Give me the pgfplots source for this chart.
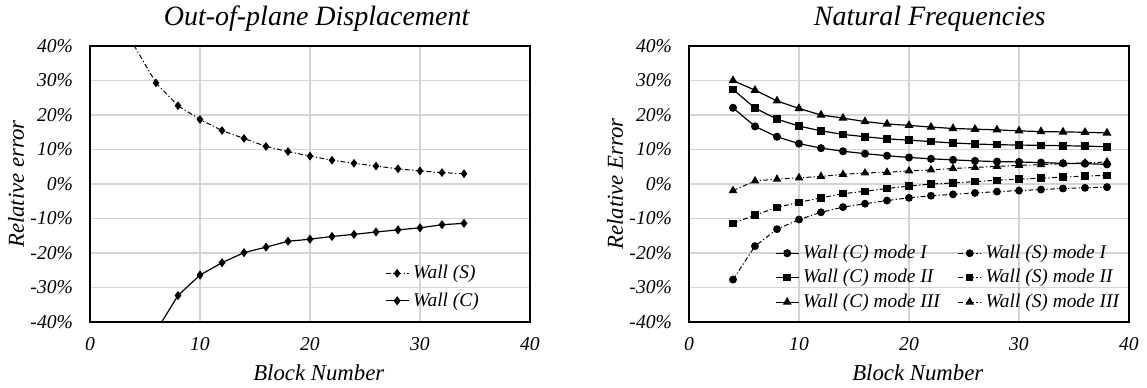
\documentclass[border=0pt]{standalone}
\usepackage{fontspec}
\setmainfont{Liberation Serif}
\usepackage{pgfplots}
\pgfplotsset{compat=1.18}
\pgfplotsset{
 myaxis/.style={
  scale only axis, width=220pt, height=138pt,
  xmin=0,xmax=40,ymin=-40,ymax=40,
  xtick={0,10,20,30,40}, xticklabels={0,10,20,30,40},
  ytick={-40,-30,-20,-10,0,10,20,30,40},
  yticklabels={-40\%,-30\%,-20\%,-10\%,0\%,10\%,20\%,30\%,40\%},
  grid=major, major grid style={line width=0.6pt, color=black!17},
  axis line style={line width=0.6pt},
  major tick length=0pt,
  tick label style={font=\fontsize{9.8}{11}\selectfont\itshape},
  xticklabel style={yshift=-4pt},
  yticklabel style={xshift=-5pt},
  every axis x label/.style={at={(axis description cs:0.52,-0.185)},anchor=center,font=\fontsize{11.4}{13}\selectfont\itshape},
  every axis y label/.style={at={(axis description cs:-0.168,0.5)},anchor=center,rotate=90,font=\fontsize{11.4}{13}\selectfont\itshape},
  legend style={draw=none, fill=none, font=\fontsize{9.7}{11}\selectfont\itshape, inner sep=0pt},
  legend cell align=left,
  legend image code/.code={\draw[mark repeat=2,mark phase=2] plot coordinates {(0cm,0cm) (0.2cm,0cm) (0.4cm,0cm)};},
 },
 sdash/.style={black, line width=0.5pt, dash pattern=on 2.4pt off 1.2pt on 0.6pt off 1.2pt},
 csolid/.style={black, line width=0.6pt, solid},
}
\begin{document}
\begin{tikzpicture}
\useasboundingbox (0,0) rectangle (573.5pt,193.5pt);
\begin{axis}[myaxis, at={(45pt,32.5pt)}, anchor=south west,
  title={Out-of-plane Displacement},
  every axis title/.style={at={(axis description cs:0.515,1.10)},anchor=center,font=\fontsize{14}{16}\selectfont\itshape},
  xlabel={Block Number}, ylabel={Relative error},
  legend style={at={(0.67,0.222)}, anchor=north west, row sep=1.5pt},
  ]
\addplot[sdash, mark=diamond*, mark size=1.8pt, mark options={solid}] coordinates {
(6,29.3)(8,22.7)(10,18.7)(12,15.5)(14,13.2)(16,10.9)(18,9.4)(20,8.1)(22,6.9)(24,6.0)(26,5.2)(28,4.4)(30,3.8)(32,3.3)(34,3.0)};
\addlegendentry{Wall (S)}
\addplot[csolid, mark=diamond*, mark size=1.8pt] coordinates {
(8,-32.3)(10,-26.4)(12,-22.8)(14,-19.9)(16,-18.3)(18,-16.6)(20,-16.0)(22,-15.2)(24,-14.6)(26,-13.9)(28,-13.3)(30,-12.7)(32,-11.8)(34,-11.4)};
\addlegendentry{Wall (C)}
\addplot[sdash, forget plot] coordinates {(4,40.2)(6,29.3)};
\addplot[csolid, forget plot] coordinates {(6,-42.7)(8,-32.3)};
\end{axis}
\begin{axis}[myaxis, at={(344.5pt,32.5pt)}, anchor=south west,
  title={Natural Frequencies},
  every axis title/.style={at={(axis description cs:0.547,1.10)},anchor=center,font=\fontsize{14}{16}\selectfont\itshape},
  xlabel={Block Number}, ylabel={Relative Error},
  legend columns=2,
  legend style={at={(0.195,0.295)}, anchor=north west, /tikz/every even column/.append style={column sep=7pt}},
  ]
\addplot[csolid, mark=*, mark size=1.7pt] coordinates {
(4,22.1)(6,16.7)(8,13.7)(10,11.7)(12,10.4)(14,9.5)(16,8.8)(18,8.2)(20,7.7)(22,7.3)(24,7.0)(26,6.7)(28,6.5)(30,6.4)(32,6.2)(34,6.0)(36,5.9)(38,5.7)};
\addlegendentry{Wall (C) mode I}
\addplot[sdash, mark=*, mark size=1.7pt, mark options={solid}] coordinates {
(4,-27.7)(6,-18.0)(8,-13.1)(10,-10.3)(12,-8.2)(14,-6.7)(16,-5.7)(18,-4.8)(20,-4.0)(22,-3.4)(24,-3.0)(26,-2.6)(28,-2.2)(30,-1.9)(32,-1.6)(34,-1.3)(36,-1.1)(38,-0.9)};
\addlegendentry{Wall (S) mode I}
\addplot[csolid, mark=square*, mark size=1.6pt] coordinates {
(4,27.4)(6,22.0)(8,18.8)(10,16.8)(12,15.4)(14,14.4)(16,13.7)(18,13.1)(20,12.7)(22,12.3)(24,11.9)(26,11.6)(28,11.4)(30,11.3)(32,11.2)(34,11.1)(36,11.0)(38,10.8)};
\addlegendentry{Wall (C) mode II}
\addplot[sdash, mark=square*, mark size=1.6pt, mark options={solid}] coordinates {
(4,-11.4)(6,-9.0)(8,-6.8)(10,-5.3)(12,-4.0)(14,-2.8)(16,-2.1)(18,-1.3)(20,-0.6)(22,0.0)(24,0.3)(26,0.7)(28,1.1)(30,1.4)(32,1.7)(34,2.0)(36,2.3)(38,2.5)};
\addlegendentry{Wall (S) mode II}
\addplot[csolid, mark=triangle*, mark size=2pt] coordinates {
(4,30.0)(6,27.2)(8,24.1)(10,21.9)(12,20.0)(14,19.1)(16,18.1)(18,17.4)(20,17.0)(22,16.5)(24,16.1)(26,15.9)(28,15.7)(30,15.4)(32,15.2)(34,15.1)(36,15.0)(38,14.8)};
\addlegendentry{Wall (C) mode III}
\addplot[sdash, mark=triangle*, mark size=2pt, mark options={solid}] coordinates {
(4,-1.9)(6,0.9)(8,1.4)(10,1.8)(12,2.2)(14,2.8)(16,3.2)(18,3.4)(20,3.8)(22,4.1)(24,4.5)(26,4.8)(28,5.1)(30,5.4)(32,5.6)(34,5.9)(36,6.1)(38,6.4)};
\addlegendentry{Wall (S) mode III}
\end{axis}
\end{tikzpicture}
\end{document}
